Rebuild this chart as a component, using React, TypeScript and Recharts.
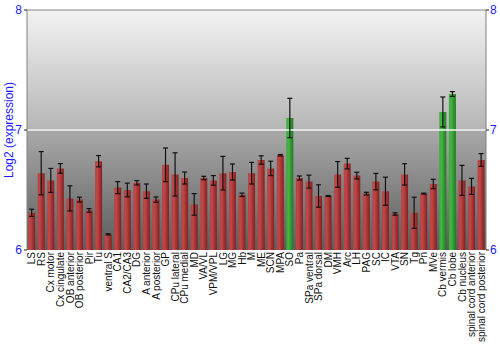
import { BarChart, Bar, XAxis, YAxis, CartesianGrid, ReferenceLine, ErrorBar, Cell } from 'recharts';

const regions = [
  'LS', 'RS', 'Cx motor', 'Cx cingulate', 'OB anterior', 'OB posterior', 'Pir', 'Tu', 'ventral S', 'CA1',
  'CA2/CA3', 'DG', 'A anterior', 'A posterior', 'GP', 'CPu lateral', 'CPu medial', 'MD', 'VA/VL', 'VPM/VPL',
  'LG', 'MG', 'Hb', 'M', 'ME', 'SCN', 'MPA', 'SO', 'Pa', 'SPa ventral',
  'SPa dorsal', 'DM', 'VMH', 'Arc', 'LH', 'PAG', 'SC', 'IC', 'VTA', 'SN',
  'Tg', 'Pn', 'MVe', 'Cb vermis', 'Cb lobe', 'Cb nucleus', 'spinal cord anterior', 'spinal cord posterior',
];

const expression = [
  6.31, 6.64, 6.58, 6.68, 6.43, 6.42, 6.33, 6.74, 6.13, 6.52,
  6.5, 6.56, 6.49, 6.42, 6.71, 6.63, 6.6, 6.38, 6.6, 6.58,
  6.64, 6.65, 6.46, 6.64, 6.75, 6.68, 6.79, 7.1, 6.6, 6.57,
  6.45, 6.45, 6.63, 6.72, 6.62, 6.47, 6.57, 6.49, 6.3, 6.63,
  6.31, 6.47, 6.55, 7.15, 7.3, 6.58, 6.53, 6.75,
];

const stdErr = [
  0.03, 0.18, 0.1, 0.04, 0.105, 0.02, 0.015, 0.047, 0.005, 0.05,
  0.057, 0.018, 0.06, 0.022, 0.14, 0.18, 0.05, 0.09, 0.014, 0.04,
  0.14, 0.067, 0.014, 0.09, 0.035, 0.06, 0.006, 0.164, 0.017, 0.054,
  0.093, 0.004, 0.107, 0.044, 0.028, 0.011, 0.068, 0.117, 0.01, 0.089,
  0.13, 0.004, 0.039, 0.125, 0.02, 0.125, 0.067, 0.053,
];

const highlighted = ['SO', 'Cb vermis', 'Cb lobe'];

const yTicks = [6, 7, 8];

const data = regions.map((name, i) => ({ name, value: expression[i], err: stdErr[i] }));

const XTick = ({ x, y, payload }: any) => (
  <text
    x={x}
    y={y}
    transform={`rotate(-90 ${x} ${y})`}
    textAnchor="end"
    dominantBaseline="central"
    fontSize={10}
    fill="#111"
    fontFamily="Liberation Sans, Arial, sans-serif"
  >
    {payload.value}
  </text>
);

const axisTick = { fill: '#1a1aff', fontSize: 12, fontFamily: 'Liberation Sans, Arial, sans-serif' };

export default function App() {
  return (
    <div style={{ position: 'absolute', left: 0, top: 0, width: 500, height: 350, background: '#fff' }}>
      <BarChart
        width={500}
        height={350}
        data={data}
        margin={{ top: 10, right: 0, bottom: 0, left: 0 }}
        barCategoryGap="12%"
      >
        <defs>
          <linearGradient id="bgFill" x1="0" y1="0" x2="0" y2="1">
            <stop offset="0" stopColor="#f3f3f3" />
            <stop offset="0.5" stopColor="#b5b5b5" />
            <stop offset="0.5" stopColor="#a9a9a9" />
            <stop offset="1" stopColor="#5c5c5c" />
          </linearGradient>
          <linearGradient id="redFill" x1="0" y1="0" x2="1" y2="0">
            <stop offset="0" stopColor="#b44242" />
            <stop offset="0.3" stopColor="#c24747" />
            <stop offset="1" stopColor="#842020" />
          </linearGradient>
          <linearGradient id="greenFill" x1="0" y1="0" x2="1" y2="0">
            <stop offset="0" stopColor="#3aa83a" />
            <stop offset="0.3" stopColor="#45b545" />
            <stop offset="1" stopColor="#1f7a1f" />
          </linearGradient>
        </defs>
        <CartesianGrid fill="url(#bgFill)" stroke="none" vertical={false} horizontal={false} yAxisId="left" />
        <XAxis
          dataKey="name"
          interval={0}
          height={100}
          tickLine={false}
          axisLine={false}
          tickSize={0}
          tickMargin={2}
          tick={<XTick />}
        />
        <YAxis
          yAxisId="left"
          width={27}
          domain={[6, 8]}
          ticks={yTicks}
          allowDataOverflow
          tickSize={3}
          tickMargin={2}
          tick={axisTick}
          axisLine={{ stroke: '#808080' }}
          tickLine={{ stroke: '#222' }}
          label={{
            content: () => (
              <text
                x={9}
                y={130}
                transform="rotate(-90 9 130)"
                textAnchor="middle"
                dominantBaseline="central"
                fontSize={12}
                fill="#1a1aff"
                fontFamily="Liberation Sans, Arial, sans-serif"
              >
                Log2 (expression)
              </text>
            ),
          }}
        />
        <YAxis
          yAxisId="right"
          orientation="right"
          width={14}
          domain={[6, 8]}
          ticks={yTicks}
          allowDataOverflow
          tickSize={3}
          tickMargin={1}
          tick={axisTick}
          axisLine={{ stroke: '#808080' }}
          tickLine={{ stroke: '#222' }}
        />
        <ReferenceLine yAxisId="left" y={7} stroke="#f4f4f4" strokeWidth={1.5} />
        <ReferenceLine yAxisId="left" y={8} stroke="#808080" strokeWidth={1} />
        <Bar yAxisId="left" dataKey="value" isAnimationActive={false}>
          {data.map((d) => (
            <Cell key={d.name} fill={highlighted.includes(d.name) ? 'url(#greenFill)' : 'url(#redFill)'} />
          ))}
          <ErrorBar dataKey="err" width={2.5} stroke="#111" strokeWidth={1.2} isAnimationActive={false} />
        </Bar>
      </BarChart>
    </div>
  );
}
